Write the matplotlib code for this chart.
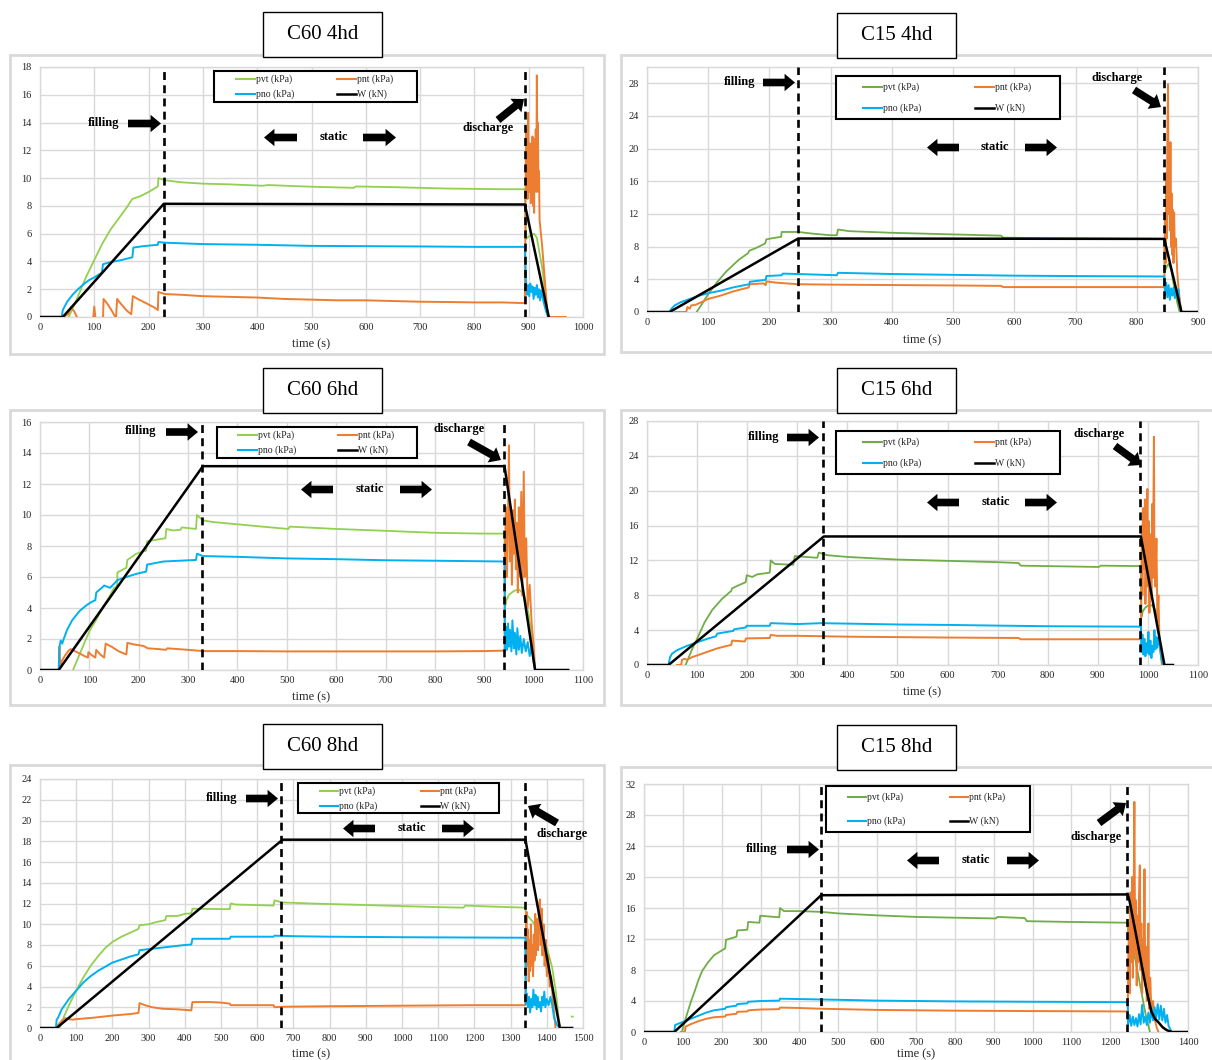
import numpy as np
import matplotlib
matplotlib.use("Agg")
import matplotlib.pyplot as plt
from matplotlib.patches import Rectangle, FancyArrowPatch
from matplotlib.lines import Line2D

plt.rcParams["font.family"] = ["Liberation Serif", "DejaVu Serif"]

# ------------------------------------------------------------------
# Measured records: (time s, value).  pvt, pnt, pno in kPa, W in kN
# ------------------------------------------------------------------
SERIES_LABELS = ["pvt (kPa)", "pno (kPa)", "pnt (kPa)", "W (kN)"]

# ---- C60 4hd ----
C60_4HD_FILL_END, C60_4HD_DISCHARGE = 228, 894
C60_4HD_W = [(0, 0), (42, 0), (228, 8.15), (893, 8.1), (937, 0)]
C60_4HD_PVT = [(50, -0.5), (53, 0), (70, 1.5), (85, 2.9), (100, 4.1), (115, 5.3), (130, 6.3),
               (145, 7.1), (160, 7.9), (170, 8.5), (185, 8.7), (200, 9.0), (215, 9.35),
               (217, 9.4), (218, 10.0), (230, 9.85), (260, 9.7), (300, 9.6), (350, 9.55),
               (410, 9.45), (420, 9.5), (500, 9.38), (578, 9.3), (582, 9.4), (650, 9.35),
               (750, 9.25), (850, 9.2), (893, 9.2), (895, 5.6), (900, 5.8), (910, 6.0),
               (915, 5.7), (925, 3.5), (935, 0.2), (937, 0)]
C60_4HD_PNO = [(40, 0), (42, 0.5), (50, 1.1), (60, 1.6), (70, 2.0), (80, 2.35), (90, 2.65),
               (100, 2.85), (114, 3.2), (116, 3.8), (130, 3.95), (150, 4.1), (170, 4.3),
               (172, 5.0), (190, 5.1), (217, 5.2), (218, 5.4), (230, 5.35), (300, 5.25),
               (400, 5.2), (500, 5.12), (600, 5.1), (700, 5.08), (800, 5.05), (893, 5.05),
               (895, 2.6), (897, 1.6), (899, 2.3), (901, 1.5), (903, 2.4), (905, 1.8),
               (907, 2.2), (909, 1.3), (911, 2.1), (913, 1.6), (915, 2.3), (917, 1.4),
               (919, 2.0), (921, 1.2), (923, 1.9), (925, 1.5), (928, 1.0), (932, 0.4), (936, 0)]
C60_4HD_PNT = [(42, 0), (52, 0.2), (57, 0.7), (63, 0.4), (68, 0), (72, -0.5), (97, -0.5),
               (100, 0.75), (103, -0.5), (116, -0.3), (117, 1.3), (125, 0.9), (133, 0.4),
               (140, -0.1), (142, 1.3), (150, 0.9), (160, 0.45), (168, 0.2), (171, 1.5),
               (180, 1.3), (195, 1.0), (210, 0.7), (217, 0.5), (218, 1.8), (230, 1.65),
               (260, 1.6), (300, 1.5), (350, 1.45), (400, 1.4), (450, 1.3), (500, 1.25),
               (550, 1.2), (600, 1.2), (650, 1.15), (700, 1.1), (750, 1.08), (800, 1.05),
               (850, 1.05), (893, 1.0), (895, 13.5), (896, 9.0), (897, 12.0), (898, 8.5),
               (899, 14.7), (900, 10.0), (901, 12.5), (902, 9.0), (903, 11.0), (904, 8.2),
               (905, 12.5), (906, 9.5), (907, 13.0), (908, 8.0), (909, 11.5), (910, 7.5),
               (911, 12.8), (912, 10.0), (913, 13.5), (914, 9.0), (915, 17.4), (916, 11.0),
               (917, 14.0), (918, 9.0), (919, 10.5), (920, 7.0), (925, 5.0), (930, 2.5),
               (935, 0), (968, 0)]

# ---- C15 4hd ----
C15_4HD_FILL_END, C15_4HD_DISCHARGE = 247, 845
C15_4HD_W = [(0, 0), (37, 0), (247, 9.0), (845, 8.95), (873, 0), (900, 0)]
C15_4HD_PVT = [(78, -0.5), (81, 0), (90, 1.0), (100, 2.2), (115, 3.7), (130, 5.0), (150, 6.4),
               (165, 7.2), (167, 7.5), (180, 7.9), (193, 8.4), (195, 8.9), (210, 9.1),
               (219, 9.2), (220, 9.8), (247, 9.8), (270, 9.6), (300, 9.4), (310, 9.4),
               (312, 10.1), (330, 9.9), (400, 9.7), (500, 9.5), (578, 9.35), (582, 9.1),
               (650, 9.05), (750, 9.0), (845, 8.95), (846, 5.0), (849, 5.6), (852, 5.9),
               (856, 5.2), (860, 3.5), (866, 1.2), (870, 0)]
C15_4HD_PNO = [(37, 0), (40, 0.4), (45, 0.8), (55, 1.2), (70, 1.6), (85, 2.0), (100, 2.3),
               (120, 2.6), (140, 3.0), (160, 3.3), (167, 3.4), (168, 3.7), (190, 3.9),
               (194, 3.95), (195, 4.4), (220, 4.5), (222, 4.7), (247, 4.65), (310, 4.5),
               (312, 4.8), (400, 4.65), (500, 4.55), (600, 4.45), (700, 4.4), (845, 4.35),
               (846, 2.0), (848, 3.6), (850, 1.8), (852, 3.3), (854, 1.5), (856, 2.9),
               (858, 2.0), (860, 3.0), (862, 1.7), (864, 2.5), (866, 2.0), (868, 2.8),
               (870, 1.0), (872, 0)]
C15_4HD_PNT = [(45, 0), (64, 0), (66, 0.6), (70, 0.4), (72, 0.8), (80, 0.9), (100, 1.6),
               (120, 2.0), (140, 2.5), (155, 2.8), (166, 3.0), (168, 3.4), (190, 3.5),
               (194, 3.3), (195, 3.75), (210, 3.6), (247, 3.4), (300, 3.35), (400, 3.3),
               (500, 3.25), (578, 3.2), (582, 3.05), (700, 3.05), (845, 3.05), (846, 12.0),
               (847, 6.0), (848, 17.0), (849, 9.0), (850, 22.0), (851, 27.9), (852, 12.0),
               (853, 16.0), (854, 10.0), (855, 20.8), (856, 8.0), (857, 14.5), (858, 7.0),
               (859, 12.5), (860, 6.0), (861, 12.2), (862, 8.0), (864, 9.0), (866, 5.0),
               (868, 3.0), (871, 1.0), (873, 0)]

# ---- C60 6hd ----
C60_6HD_FILL_END, C60_6HD_DISCHARGE = 329, 940
C60_6HD_W = [(0, 0), (38, 0), (330, 13.15), (941, 13.15), (1003, 0), (1070, 0)]
C60_6HD_PVT = [(62, -0.5), (67, 0), (80, 1.0), (100, 2.5), (115, 3.3), (130, 4.2), (140, 4.7),
               (150, 5.3), (156, 5.4), (157, 6.3), (175, 6.6), (177, 7.1), (195, 7.5),
               (215, 7.7), (217, 8.3), (235, 8.4), (254, 8.5), (256, 9.1), (270, 9.0),
               (285, 9.05), (287, 9.2), (316, 9.1), (318, 10.0), (330, 9.65), (350, 9.55),
               (400, 9.4), (450, 9.25), (503, 9.1), (506, 9.25), (600, 9.1), (700, 8.98),
               (800, 8.85), (900, 8.8), (941, 8.8), (942, 4.0), (945, 4.5), (950, 4.85),
               (960, 5.1), (970, 5.2), (980, 4.9), (990, 3.6), (998, 1.5), (1003, 0)]
C60_6HD_PNO = [(38, 0), (40, 1.6), (42, 1.9), (45, 1.7), (48, 2.0), (55, 2.6), (65, 3.2),
               (80, 3.8), (95, 4.2), (105, 4.4), (112, 4.5), (114, 5.0), (125, 5.3),
               (130, 5.45), (142, 5.3), (157, 5.8), (175, 6.0), (195, 6.2), (215, 6.35),
               (217, 6.8), (250, 7.0), (316, 7.1), (318, 7.5), (330, 7.35), (400, 7.3),
               (500, 7.2), (600, 7.15), (700, 7.08), (800, 7.05), (941, 7.0), (942, 1.2),
               (944, 2.8), (946, 1.3), (948, 3.0), (950, 1.5), (952, 2.6), (955, 1.2),
               (957, 3.2), (960, 1.4), (962, 2.4), (965, 1.0), (967, 2.7), (970, 1.3),
               (973, 2.2), (976, 1.1), (980, 2.0), (984, 1.2), (988, 1.8), (992, 0.9),
               (996, 1.6), (1000, 0.5), (1003, 0)]
C60_6HD_PNT = [(38, 0), (39, 1.5), (41, 0.3), (43, 0.5), (50, 0.9), (58, 1.25), (62, 1.35),
               (75, 1.15), (90, 0.9), (97, 0.8), (98, 1.15), (105, 0.95), (112, 0.8),
               (114, 1.3), (122, 1.0), (130, 0.8), (133, 1.7), (145, 1.5), (160, 1.2),
               (175, 1.0), (177, 1.75), (190, 1.65), (210, 1.55), (218, 1.4), (240, 1.35),
               (255, 1.3), (258, 1.4), (300, 1.3), (330, 1.22), (400, 1.22), (500, 1.2),
               (600, 1.2), (700, 1.2), (800, 1.2), (900, 1.22), (941, 1.25), (942, 8.0),
               (944, 10.5), (946, 6.0), (948, 9.5), (950, 14.5), (952, 7.0), (954, 10.0),
               (956, 5.5), (958, 10.3), (960, 7.5), (962, 11.0), (964, 6.5), (966, 9.5),
               (968, 5.0), (970, 10.5), (972, 6.0), (975, 11.5), (977, 4.8), (980, 12.8),
               (982, 6.0), (985, 8.5), (988, 4.0), (992, 5.5), (996, 3.0), (1000, 1.5),
               (1003, 0)]

# ---- C15 6hd ----
C15_6HD_FILL_END, C15_6HD_DISCHARGE = 352, 985
C15_6HD_W = [(0, 0), (43, 0), (353, 14.75), (986, 14.75), (1033, 0), (1050, 0)]
C15_6HD_PVT = [(72, -0.5), (77, 0), (90, 1.8), (100, 3.0), (115, 4.9), (130, 6.3), (150, 7.6),
               (168, 8.5), (170, 8.8), (185, 9.2), (197, 9.5), (199, 10.3), (210, 10.1),
               (220, 10.4), (245, 10.6), (247, 12.0), (255, 11.6), (292, 11.5), (295, 12.5),
               (340, 12.3), (343, 12.9), (360, 12.6), (400, 12.4), (500, 12.1), (600, 11.95),
               (700, 11.8), (742, 11.7), (746, 11.4), (850, 11.3), (902, 11.25), (906, 11.4),
               (986, 11.35), (987, 5.5), (990, 6.2), (995, 6.6), (1002, 6.9), (1010, 6.8),
               (1015, 6.2), (1020, 4.2), (1027, 1.2), (1031, 0)]
C15_6HD_PNO = [(43, 0), (46, 0.9), (50, 1.3), (60, 1.7), (80, 2.2), (100, 2.6), (120, 3.0),
               (138, 3.3), (140, 3.6), (160, 3.8), (172, 3.9), (174, 4.1), (197, 4.3),
               (199, 4.5), (245, 4.5), (247, 4.8), (300, 4.7), (348, 4.8), (400, 4.75),
               (500, 4.65), (600, 4.6), (700, 4.52), (800, 4.45), (900, 4.42), (986, 4.4),
               (987, 1.5), (989, 3.5), (991, 1.2), (993, 3.0), (995, 1.0), (997, 2.5),
               (999, 1.4), (1001, 3.8), (1003, 1.2), (1005, 2.8), (1007, 0.8), (1009, 2.2),
               (1011, 1.5), (1013, 4.0), (1015, 1.8), (1017, 3.2), (1019, 2.0), (1022, 3.4),
               (1025, 1.5), (1028, 0.5), (1031, 0)]
C15_6HD_PNT = [(60, 0), (68, 0), (70, 0.6), (75, 0.7), (80, 0.6), (90, 0.9), (100, 1.1),
               (120, 1.5), (140, 1.9), (160, 2.2), (168, 2.3), (170, 2.8), (195, 2.7),
               (198, 3.05), (245, 3.1), (247, 3.45), (260, 3.35), (300, 3.35), (400, 3.25),
               (500, 3.2), (600, 3.15), (742, 3.1), (746, 2.95), (900, 2.95), (986, 2.95),
               (987, 10.0), (988, 16.0), (989, 8.0), (990, 18.0), (992, 11.0), (994, 19.0),
               (995, 7.0), (997, 14.5), (999, 20.2), (1000, 9.0), (1002, 16.5), (1003, 6.0),
               (1005, 15.0), (1007, 8.0), (1009, 18.5), (1010, 10.0), (1012, 26.2),
               (1013, 12.0), (1015, 9.0), (1017, 14.5), (1019, 5.0), (1021, 8.0), (1023, 3.0),
               (1026, 1.0), (1028, 0)]

# ---- C60 8hd ----
C60_8HD_FILL_END, C60_8HD_DISCHARGE = 667, 1339
C60_8HD_W = [(0, 0), (46, 0), (670, 18.15), (1341, 18.15), (1436, 0), (1470, 0)]
C60_8HD_PVT = [(50, -0.5), (54, 0), (65, 1.0), (80, 2.2), (100, 3.6), (120, 4.9), (140, 6.0),
               (160, 6.9), (180, 7.7), (200, 8.3), (225, 8.8), (250, 9.2), (272, 9.55),
               (275, 9.9), (300, 10.0), (320, 10.2), (346, 10.4), (349, 10.8), (380, 10.8),
               (400, 11.0), (418, 11.05), (421, 11.5), (524, 11.45), (527, 12.0), (540, 11.9),
               (645, 11.8), (648, 12.3), (670, 12.1), (750, 12.0), (900, 11.85),
               (1000, 11.75), (1100, 11.65), (1170, 11.6), (1175, 11.8), (1250, 11.7),
               (1341, 11.6), (1342, 11.0), (1360, 10.3), (1380, 9.2), (1400, 7.8),
               (1415, 5.8), (1425, 3.5), (1432, 1.2), (1437, 0), (np.nan, np.nan),
               (1469, 1.1), (1472, 1.1)]
C60_8HD_PNO = [(44, 0), (46, 0.8), (50, 1.0), (60, 1.8), (80, 2.8), (100, 3.6), (120, 4.4),
               (140, 5.0), (160, 5.5), (180, 5.9), (200, 6.3), (225, 6.6), (250, 6.9),
               (272, 7.1), (275, 7.5), (300, 7.6), (350, 7.8), (400, 8.0), (418, 8.05),
               (421, 8.6), (524, 8.6), (527, 8.8), (645, 8.8), (648, 8.9), (700, 8.85),
               (800, 8.8), (1000, 8.75), (1200, 8.72), (1341, 8.7), (1342, 2.3), (1345, 3.3),
               (1348, 2.0), (1351, 3.0), (1354, 1.5), (1357, 2.8), (1360, 2.0), (1363, 3.7),
               (1366, 2.2), (1369, 3.2), (1372, 1.8), (1375, 3.0), (1378, 2.0), (1381, 2.5),
               (1384, 1.6), (1387, 3.0), (1390, 2.2), (1393, 3.5), (1396, 2.0), (1400, 2.8),
               (1405, 2.2), (1410, 3.0), (1415, 2.2), (1420, 1.0), (1428, 0.3), (1436, 0)]
C60_8HD_PNT = [(44, 0), (50, 0.3), (60, 0.7), (70, 0.95), (80, 0.85), (90, 0.8), (100, 0.85),
               (150, 1.0), (200, 1.2), (250, 1.35), (272, 1.45), (275, 2.4), (290, 2.2),
               (310, 2.0), (340, 1.85), (380, 1.8), (418, 1.7), (421, 2.5), (470, 2.5),
               (500, 2.45), (524, 2.35), (527, 2.2), (645, 2.2), (648, 2.0), (670, 2.05),
               (800, 2.1), (1000, 2.15), (1200, 2.2), (1341, 2.2), (1342, 9.0), (1344, 11.2),
               (1346, 6.0), (1348, 9.5), (1350, 4.5), (1352, 8.5), (1354, 5.5), (1356, 10.0),
               (1358, 6.0), (1360, 8.0), (1362, 5.0), (1364, 9.0), (1366, 6.5), (1368, 11.0),
               (1370, 7.0), (1373, 10.5), (1376, 7.5), (1378, 11.8), (1381, 12.4),
               (1383, 8.0), (1386, 11.5), (1388, 7.0), (1391, 10.0), (1394, 6.0), (1397, 8.5),
               (1400, 5.0), (1404, 7.0), (1408, 4.0), (1412, 5.0), (1416, 3.0), (1420, 1.5),
               (1424, 0)]

# ---- C15 8hd ----
C15_8HD_FILL_END, C15_8HD_DISCHARGE = 455, 1244
C15_8HD_W = [(0, 0), (78, 0), (456, 17.65), (1245, 17.75), (1250, 16.8), (1255, 15.5),
             (1268, 12.1), (1281, 8.6), (1294, 5.2), (1306, 2.6), (1315, 1.7), (1323, 1.3),
             (1335, 0.6), (1345, 0.25), (1358, 0), (1400, 0)]
C15_8HD_PVT = [(95, -0.5), (100, 0.5), (110, 2.2), (120, 3.8), (130, 5.2), (140, 6.7),
               (150, 7.9), (165, 9.0), (180, 9.9), (209, 10.8), (211, 11.9), (225, 12.1),
               (238, 12.3), (240, 13.1), (266, 13.2), (268, 14.2), (297, 14.1), (299, 15.0),
               (348, 14.8), (350, 16.0), (360, 15.6), (400, 15.6), (456, 15.5), (500, 15.3),
               (600, 15.05), (700, 14.85), (800, 14.75), (905, 14.65), (910, 14.85),
               (980, 14.7), (985, 14.3), (1100, 14.2), (1245, 14.1), (1246, 12.5),
               (1255, 11.0), (1262, 10.0), (1275, 6.5), (1290, 2.5), (1302, 0)]
C15_8HD_PNO = [(78, 0), (80, 0.9), (90, 1.1), (100, 1.3), (120, 1.7), (140, 2.1), (160, 2.5),
               (180, 2.8), (209, 3.0), (211, 3.2), (238, 3.4), (240, 3.6), (266, 3.7),
               (268, 3.9), (300, 4.0), (348, 4.05), (350, 4.3), (400, 4.25), (456, 4.2),
               (600, 4.05), (800, 3.95), (1000, 3.9), (1245, 3.85), (1246, 1.0), (1250, 2.2),
               (1254, 0.8), (1258, 2.0), (1262, 0.9), (1266, 1.8), (1270, 0.7), (1274, 2.3),
               (1278, 1.0), (1282, 3.5), (1286, 1.2), (1290, 2.0), (1294, 0.9), (1298, 2.5),
               (1302, 1.2), (1306, 3.0), (1310, 1.5), (1314, 3.2), (1318, 1.8), (1322, 3.6),
               (1326, 1.6), (1330, 3.4), (1334, 1.5), (1338, 3.0), (1342, 1.2), (1346, 2.2),
               (1350, 0.8), (1355, 0.3), (1358, 0)]
C15_8HD_PNT = [(95, 0), (105, 0), (107, 0.7), (120, 1.0), (140, 1.4), (160, 1.7), (180, 1.9),
               (209, 2.0), (211, 2.2), (238, 2.35), (240, 2.6), (266, 2.65), (268, 2.8),
               (300, 2.9), (348, 2.95), (350, 3.15), (400, 3.1), (456, 3.0), (600, 2.85),
               (800, 2.75), (1000, 2.7), (1245, 2.65), (1246, 8.0), (1248, 14.0), (1250, 5.0),
               (1252, 18.0), (1254, 9.0), (1256, 20.0), (1258, 7.0), (1260, 16.0),
               (1262, 29.7), (1264, 10.0), (1266, 17.0), (1268, 6.0), (1270, 15.0),
               (1272, 9.0), (1274, 18.0), (1276, 21.5), (1278, 8.0), (1280, 14.0), (1282, 5.0),
               (1284, 12.0), (1286, 8.0), (1288, 21.0), (1290, 6.0), (1292, 11.0), (1294, 4.0),
               (1296, 9.0), (1298, 14.0), (1300, 3.0), (1303, 7.0), (1306, 2.0), (1310, 4.0),
               (1315, 1.5), (1320, 0.5), (1324, 0)]

# ------------------------------------------------------------------
# Styling
# ------------------------------------------------------------------
GREEN_LIGHT = "#92D050"
GREEN_DARK = "#70AD47"
ORANGE = "#ED7D31"
BLUE = "#00B0F0"
GRID = "#D9D9D9"
TICK_COLOR = "#262626"

FIG_W, FIG_H = 1212, 1060

PANELS = [
    dict(title="C60 4hd", pvt=C60_4HD_PVT, pnt=C60_4HD_PNT, pno=C60_4HD_PNO, w=C60_4HD_W,
         fill_end=C60_4HD_FILL_END, discharge=C60_4HD_DISCHARGE, green=GREEN_LIGHT,
         xmax=1000, xstep=100, ymax=18, ytick_max=18, ystep=2,
         rect=(40, 583, 67, 317), outer=(10, 55, 604, 354), tbox=(263, 12, 382, 57),
         legend=(214, 71, 417, 102), rows=(79, 94), cols=(236, 337), hlen=19,
         fill_txt=(104, 123), fill_arrow=((128, 123.5), (161, 123.5)),
         static_txt=(334, 137), static_l=((297, 137.5), (264, 137.5)),
         static_r=((363, 137.5), (396, 137.5)),
         dis_txt=(488, 128), dis_arrow=((498, 120), (524, 99)), xlabel_y=344),
    dict(title="C15 4hd", pvt=C15_4HD_PVT, pnt=C15_4HD_PNT, pno=C15_4HD_PNO, w=C15_4HD_W,
         fill_end=C15_4HD_FILL_END, discharge=C15_4HD_DISCHARGE, green=GREEN_DARK,
         xmax=900, xstep=100, ymax=30, ytick_max=28, ystep=4,
         rect=(647, 1198, 67, 312), outer=(621, 55, 1216, 352), tbox=(837, 13, 956, 58),
         legend=(836, 76, 1060, 119), rows=(86.7, 108.3), cols=(863, 975), hlen=19,
         fill_txt=(740, 82), fill_arrow=((763, 82.5), (795, 82.5)),
         static_txt=(995, 147), static_l=((959, 147.5), (927, 147.5)),
         static_r=((1025, 147.5), (1057, 147.5)),
         dis_txt=(1117, 78), dis_arrow=((1134, 90), (1161, 107)), xlabel_y=340),
    dict(title="C60 6hd", pvt=C60_6HD_PVT, pnt=C60_6HD_PNT, pno=C60_6HD_PNO, w=C60_6HD_W,
         fill_end=C60_6HD_FILL_END, discharge=C60_6HD_DISCHARGE, green=GREEN_LIGHT,
         xmax=1100, xstep=100, ymax=16, ytick_max=16, ystep=2,
         rect=(40, 583, 422, 670), outer=(10, 410, 604, 705), tbox=(263, 368, 382, 413),
         legend=(217, 427, 417, 458), rows=(435, 450), cols=(238, 338), hlen=19,
         fill_txt=(141, 431), fill_arrow=((166, 432), (198, 432)),
         static_txt=(370, 489), static_l=((333, 489.5), (301, 489.5)),
         static_r=((400, 489.5), (432, 489.5)),
         dis_txt=(459, 429), dis_arrow=((469, 442), (501, 460)), xlabel_y=697),
    dict(title="C15 6hd", pvt=C15_6HD_PVT, pnt=C15_6HD_PNT, pno=C15_6HD_PNO, w=C15_6HD_W,
         fill_end=C15_6HD_FILL_END, discharge=C15_6HD_DISCHARGE, green=GREEN_DARK,
         xmax=1100, xstep=100, ymax=28, ytick_max=28, ystep=4,
         rect=(647, 1198, 421, 665), outer=(621, 410, 1216, 705), tbox=(837, 368, 956, 413),
         legend=(836, 431, 1060, 474), rows=(441.7, 463.3), cols=(863, 975), hlen=19,
         fill_txt=(764, 437), fill_arrow=((787, 437.5), (819, 437.5)),
         static_txt=(996, 502), static_l=((959, 502.5), (927, 502.5)),
         static_r=((1025, 502.5), (1057, 502.5)),
         dis_txt=(1099, 434), dis_arrow=((1115, 446), (1141, 465)), xlabel_y=692),
    dict(title="C60 8hd", pvt=C60_8HD_PVT, pnt=C60_8HD_PNT, pno=C60_8HD_PNO, w=C60_8HD_W,
         fill_end=C60_8HD_FILL_END, discharge=C60_8HD_DISCHARGE, green=GREEN_LIGHT,
         xmax=1500, xstep=100, ymax=24, ytick_max=24, ystep=2,
         rect=(40, 583, 779, 1028), outer=(10, 765, 604, 1064), tbox=(263, 724, 382, 769),
         legend=(298, 783, 499, 813), rows=(790.7, 805.7), cols=(320, 421), hlen=18,
         fill_txt=(222, 798), fill_arrow=((246, 798.5), (278, 798.5)),
         static_txt=(412, 828), static_l=((375, 828.5), (343, 828.5)),
         static_r=((442, 828.5), (474, 828.5)),
         dis_txt=(562, 834), dis_arrow=((557, 823), (528, 806)), xlabel_y=1054),
    dict(title="C15 8hd", pvt=C15_8HD_PVT, pnt=C15_8HD_PNT, pno=C15_8HD_PNO, w=C15_8HD_W,
         fill_end=C15_8HD_FILL_END, discharge=C15_8HD_DISCHARGE, green=GREEN_DARK,
         xmax=1400, xstep=100, ymax=32, ytick_max=32, ystep=4,
         rect=(644, 1188, 784, 1032), outer=(621, 767, 1216, 1064), tbox=(837, 725, 956, 770),
         legend=(826, 786, 1030, 832), rows=(797.3, 820.7), cols=(848, 950), hlen=18,
         fill_txt=(762, 849), fill_arrow=((787, 849.5), (819, 849.5)),
         static_txt=(976, 860), static_l=((939, 860.5), (907, 860.5)),
         static_r=((1007, 860.5), (1039, 860.5)),
         dis_txt=(1096, 837), dis_arrow=((1099, 823), (1126, 803)), xlabel_y=1054),
]


def fx(px):
    return px / FIG_W


def fy(py):
    return 1.0 - py / FIG_H


def xy(pairs):
    arr = np.array(pairs, dtype=float)
    return arr[:, 0], arr[:, 1]


def block_arrow(fig, tail, head):
    arrow = FancyArrowPatch(
        (fx(tail[0]), fy(tail[1])), (fx(head[0]), fy(head[1])),
        transform=fig.transFigure,
        arrowstyle="simple,head_length=0.75,head_width=1.25,tail_width=0.55",
        mutation_scale=10, color="black", lw=0, shrinkA=0, shrinkB=0, zorder=6)
    fig.add_artist(arrow)


fig = plt.figure(figsize=(FIG_W / 100, FIG_H / 100), dpi=100)
fig.patch.set_facecolor("white")

for p in PANELS:
    # grey frame around each chart
    ox0, oy0, ox1, oy1 = p["outer"]
    fig.add_artist(Rectangle((fx(ox0), fy(oy1)), (ox1 - ox0) / FIG_W, (oy1 - oy0) / FIG_H,
                             transform=fig.transFigure, facecolor="white",
                             edgecolor=GRID, lw=2.0, zorder=-5))

    x0, x1, yt, yb = p["rect"]
    ax = fig.add_axes([fx(x0), fy(yb), (x1 - x0) / FIG_W, (yb - yt) / FIG_H])
    ax.set_xlim(0, p["xmax"])
    ax.set_ylim(0, p["ymax"])
    ax.set_xticks(np.arange(0, p["xmax"] + 1, p["xstep"]))
    ax.set_yticks(np.arange(0, p["ytick_max"] + 0.1, p["ystep"]))
    ax.grid(True, color=GRID, lw=1.0)
    ax.set_axisbelow(True)
    for s in ax.spines.values():
        s.set_color(GRID)
        s.set_linewidth(1.0)
    ax.tick_params(length=0, labelsize=7.5, colors=TICK_COLOR, pad=4)
    ax.tick_params(axis="y", pad=6)
    ax.set_facecolor("white")

    t, v = xy(p["pvt"])
    ax.plot(t, v, color=p["green"], lw=1.3, zorder=3)
    t, v = xy(p["pnt"])
    ax.plot(t, v, color=ORANGE, lw=1.4, zorder=3)
    t, v = xy(p["pno"])
    ax.plot(t, v, color=BLUE, lw=1.4, zorder=4)
    t, v = xy(p["w"])
    ax.plot(t, v, color="black", lw=1.8, zorder=5)

    for tv in (p["fill_end"], p["discharge"]):
        ax.axvline(tv, color="black", lw=1.9, ls=(0, (3.0, 2.0)), zorder=6)

    # x-axis title
    fig.text(fx((x0 + x1) / 2), fy(p["xlabel_y"]), "time (s)", ha="center", va="center",
             fontsize=9, color="#262626")

    # legend box
    lx0, ly0, lx1, ly1 = p["legend"]
    fig.add_artist(Rectangle((fx(lx0), fy(ly1)), (lx1 - lx0) / FIG_W, (ly1 - ly0) / FIG_H,
                             transform=fig.transFigure, facecolor="white",
                             edgecolor="black", lw=1.5, zorder=7))
    entries = [(p["green"], SERIES_LABELS[0], 0, 0), (BLUE, SERIES_LABELS[1], 0, 1),
               (ORANGE, SERIES_LABELS[2], 1, 0), ("black", SERIES_LABELS[3], 1, 1)]
    for color, label, ci, ri in entries:
        cx = p["cols"][ci]
        ry = p["rows"][ri]
        fig.add_artist(Line2D([fx(cx), fx(cx + p["hlen"])], [fy(ry), fy(ry)],
                              transform=fig.transFigure, color=color,
                              lw=1.8 if color == "black" else 1.5, zorder=8))
        fig.text(fx(cx + p["hlen"] + 1), fy(ry), label, ha="left", va="center",
                 fontsize=7, color="#262626", zorder=8)

    # phase annotations
    fig.text(fx(p["fill_txt"][0]), fy(p["fill_txt"][1]), "filling", ha="center",
             va="center", fontsize=9, fontweight="bold", zorder=8)
    block_arrow(fig, *p["fill_arrow"])
    fig.text(fx(p["static_txt"][0]), fy(p["static_txt"][1]), "static", ha="center",
             va="center", fontsize=9, fontweight="bold", zorder=8)
    block_arrow(fig, *p["static_l"])
    block_arrow(fig, *p["static_r"])
    fig.text(fx(p["dis_txt"][0]), fy(p["dis_txt"][1]), "discharge", ha="center",
             va="center", fontsize=9, fontweight="bold", zorder=8)
    block_arrow(fig, *p["dis_arrow"])

    # boxed chart title
    bx0, by0, bx1, by1 = p["tbox"]
    fig.add_artist(Rectangle((fx(bx0), fy(by1)), (bx1 - bx0) / FIG_W, (by1 - by0) / FIG_H,
                             transform=fig.transFigure, facecolor="white",
                             edgecolor="black", lw=1.0, zorder=9))
    fig.text(fx((bx0 + bx1) / 2), fy((by0 + by1) / 2), p["title"], ha="center",
             va="center", fontsize=15, zorder=10)

fig.savefig("out.png", dpi=100, facecolor="white")
